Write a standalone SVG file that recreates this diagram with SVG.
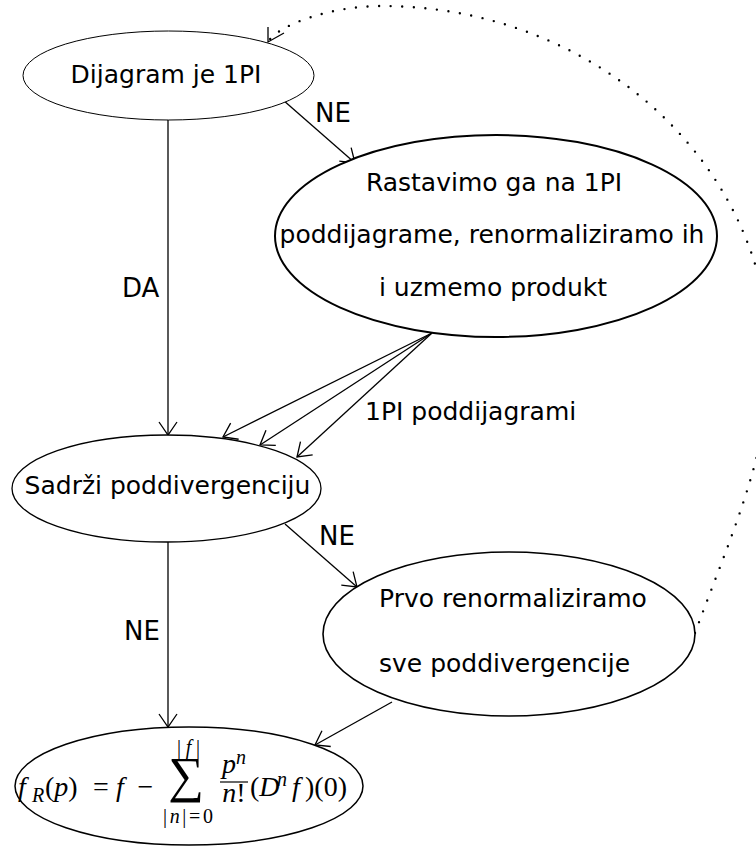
<svg xmlns="http://www.w3.org/2000/svg" width="756" height="846" viewBox="0 0 756 846">
<style>
.node ellipse{fill:#fff;stroke:#000}
.t{font-family:"DejaVu Sans",sans-serif;font-size:25px;fill:#000}
.lbl{font-family:"DejaVu Sans",sans-serif;font-size:26px;fill:#000}
.m{font-family:"Liberation Serif","Times New Roman",serif;font-size:28px;fill:#000}
.ms{font-family:"Liberation Serif","Times New Roman",serif;font-size:20px;fill:#000}
.i{font-style:italic}
.edge{fill:none;stroke:#000;stroke-width:1.3}
.dot{fill:none;stroke:#000;stroke-width:2.4;stroke-linecap:round;stroke-dasharray:0 11.6}
</style>
<defs>
<marker id="arr" markerUnits="userSpaceOnUse" markerWidth="30" markerHeight="30" refX="0" refY="0" orient="auto" overflow="visible">
<path d="M-13,-9 L0,0 L-13,9" fill="none" stroke="#000" stroke-width="1.3" stroke-dasharray="none"/>
</marker>
</defs>
<rect width="756" height="846" fill="#fff"/>

<g id="connectors">
<path class="edge" d="M168,120 L168,435" marker-end="url(#arr)"/>
<path class="edge" d="M283,100 L355,163" marker-end="url(#arr)"/>
<path class="edge" d="M432,333 L223,437" marker-end="url(#arr)"/>
<path class="edge" d="M432,333 L260,445" marker-end="url(#arr)"/>
<path class="edge" d="M432,333 L297,457" marker-end="url(#arr)"/>
<path class="edge" d="M285,524 L357,587" marker-end="url(#arr)"/>
<path class="edge" d="M168,542 L168,727" marker-end="url(#arr)"/>
<path class="edge" d="M392,702 L315,745" marker-end="url(#arr)"/>
<path class="dot" d="M695,633 C728,543 770,452 770,362 A388,356 0 0 0 382,6 C330,6 278,25 268,42"/>
<path class="edge" d="M268,27 L268,42 L284,33"/>
<text class="lbl" x="315" y="122">NE</text>
<text class="lbl" x="122" y="297">DA</text>
<text class="t" x="365" y="420">1PI poddijagrami</text>
<text class="lbl" x="319" y="545">NE</text>
<text class="lbl" x="124" y="640">NE</text>
</g>

<g id="n1" class="node">
<ellipse cx="168.5" cy="75.5" rx="145.5" ry="44.5" stroke-width="1"/>
<text class="t" x="166" y="83" text-anchor="middle">Dijagram je 1PI</text>
</g>

<g id="n2" class="node">
<ellipse cx="496" cy="236" rx="221" ry="101" stroke-width="2"/>
<text class="t" x="494" y="191" text-anchor="middle">Rastavimo ga na 1PI</text>
<text class="t" x="492" y="243" text-anchor="middle">poddijagrame, renormaliziramo ih</text>
<text class="t" x="493" y="296" text-anchor="middle">i uzmemo produkt</text>
</g>

<g id="n3" class="node">
<ellipse cx="166.5" cy="488.5" rx="154.5" ry="53.5" stroke-width="1.3"/>
<text class="t" x="167.5" y="494" text-anchor="middle">Sadrži poddivergenciju</text>
</g>

<g id="n4" class="node">
<ellipse cx="509" cy="634" rx="186" ry="82" stroke-width="1.6"/>
<text class="t" x="379" y="607">Prvo renormaliziramo</text>
<text class="t" x="379" y="672">sve poddivergencije</text>
</g>

<g id="n5" class="node">
<ellipse cx="189" cy="786" rx="174" ry="59" stroke-width="1.5"/>
<text class="m i" x="18" y="796">f</text>
<text class="ms i" x="32" y="802">R</text>
<text class="m" x="45" y="796">(<tspan class="i">p</tspan>)</text>
<text class="m" x="101" y="796" text-anchor="middle">=</text>
<text class="m i" x="116" y="796">f</text>
<text class="m" x="145.5" y="796" text-anchor="middle">−</text>
<text x="186" y="792" text-anchor="middle" style="font-family:'Liberation Serif',serif;font-size:50px">∑</text>
<text class="ms" x="177" y="754" textLength="23" lengthAdjust="spacing">|<tspan class="i">f</tspan>|</text>
<text class="ms" x="163" y="823" textLength="50" lengthAdjust="spacing">|<tspan class="i">n</tspan>|=0</text>
<text class="m i" x="222" y="773">p</text>
<text class="ms i" x="236" y="764">n</text>
<line x1="220" y1="782" x2="248" y2="782" stroke="#000" stroke-width="1.2"/>
<text class="m" x="234" y="802" text-anchor="middle"><tspan class="i">n</tspan>!</text>
<text class="m" x="250" y="796">(<tspan class="i">D</tspan></text>
<text class="ms i" x="277" y="786">n</text>
<text class="m i" x="292" y="796">f</text>
<text class="m" x="305" y="796">)(0)</text>
</g>
</svg>
